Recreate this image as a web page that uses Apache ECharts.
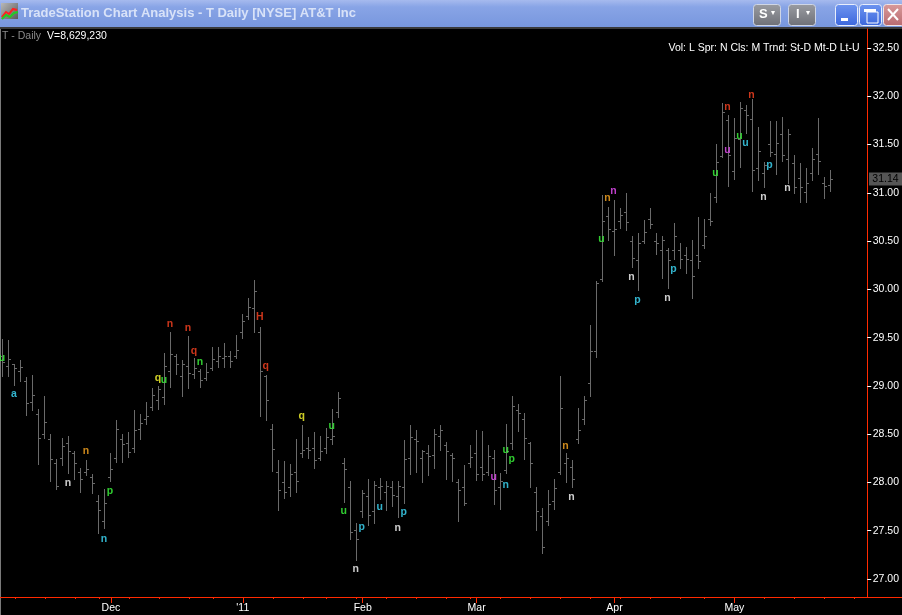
<!DOCTYPE html>
<html>
<head>
<meta charset="utf-8">
<script src="https://cdn.jsdelivr.net/npm/echarts@6/dist/echarts.min.js"></script>
<style>
html,body{margin:0;padding:0;background:#000;overflow:hidden;}
#chart{width:902px;height:615px;}
</style>
</head>
<body>
<div id="chart"></div>
<script>
// ---------- DATA ----------
const dates = [
 '2010-11-04','2010-11-05','2010-11-08','2010-11-09','2010-11-10','2010-11-11','2010-11-12','2010-11-15','2010-11-16','2010-11-17',
 '2010-11-18','2010-11-19','2010-11-22','2010-11-23','2010-11-24','2010-11-26','2010-11-29','2010-11-30','2010-12-01','2010-12-02',
 '2010-12-03','2010-12-06','2010-12-07','2010-12-08','2010-12-09','2010-12-10','2010-12-13','2010-12-14','2010-12-15','2010-12-16',
 '2010-12-17','2010-12-20','2010-12-21','2010-12-22','2010-12-23','2010-12-27','2010-12-28','2010-12-29','2010-12-30','2010-12-31',
 '2011-01-03','2011-01-04','2011-01-05','2011-01-06','2011-01-07','2011-01-10','2011-01-11','2011-01-12','2011-01-13','2011-01-14',
 '2011-01-18','2011-01-19','2011-01-20','2011-01-21','2011-01-24','2011-01-25','2011-01-26','2011-01-27','2011-01-28','2011-01-31',
 '2011-02-01','2011-02-02','2011-02-03','2011-02-04','2011-02-07','2011-02-08','2011-02-09','2011-02-10','2011-02-11','2011-02-14',
 '2011-02-15','2011-02-16','2011-02-17','2011-02-18','2011-02-22','2011-02-23','2011-02-24','2011-02-25','2011-02-28','2011-03-01',
 '2011-03-02','2011-03-03','2011-03-04','2011-03-07','2011-03-08','2011-03-09','2011-03-10','2011-03-11','2011-03-14','2011-03-15',
 '2011-03-16','2011-03-17','2011-03-18','2011-03-21','2011-03-22','2011-03-23','2011-03-24','2011-03-25','2011-03-28','2011-03-29',
 '2011-03-30','2011-03-31','2011-04-01','2011-04-04','2011-04-05','2011-04-06','2011-04-07','2011-04-08','2011-04-11','2011-04-12',
 '2011-04-13','2011-04-14','2011-04-15','2011-04-18','2011-04-19','2011-04-20','2011-04-21','2011-04-25','2011-04-26','2011-04-27',
 '2011-04-28','2011-04-29','2011-05-02','2011-05-03','2011-05-04','2011-05-05','2011-05-06','2011-05-09','2011-05-10','2011-05-11',
 '2011-05-12','2011-05-13','2011-05-16','2011-05-17','2011-05-18','2011-05-19','2011-05-20','2011-05-23','2011-05-24',
 // empty future space on the right of the chart
 '2011-05-25','2011-05-26','2011-05-27','2011-05-30','2011-05-31','2011-06-01'
];

const opens = [
 29.30,29.20,29.22,29.15,29.05,28.83,28.70,28.50,28.45,28.20,
 28.25,28.40,28.30,28.10,28.10,28.05,27.80,27.60,28.05,28.25,
 28.45,28.40,28.35,28.55,28.65,28.78,28.85,28.88,29.15,29.30,
 29.10,29.20,29.12,29.15,29.08,29.18,29.25,29.28,29.30,29.30,
 29.55,29.72,29.80,29.55,29.10,28.55,28.10,28.00,27.95,28.10,
 28.30,28.35,28.35,28.25,28.35,28.45,28.72,28.20,27.95,27.50,
 27.70,27.85,27.70,27.95,27.90,27.95,27.85,27.95,28.25,28.45,
 28.25,28.30,28.28,28.48,28.38,28.28,28.00,27.95,28.20,28.30,
 28.15,28.10,28.25,27.95,28.12,28.40,28.75,28.65,28.40,27.90,
 27.65,27.60,27.80,28.10,28.20,28.15,28.45,28.65,29.02,29.36,
 30.10,30.75,30.60,30.70,30.80,30.50,30.30,30.50,30.72,30.50,
 30.40,30.40,30.40,30.40,30.35,30.30,30.35,30.45,30.72,30.95,
 31.38,31.75,31.22,31.55,31.85,31.76,31.25,31.20,31.50,31.40,
 31.60,31.35,31.30,31.15,31.00,31.20,31.40,31.10,31.08
];
const highs = [
 29.49,29.48,29.23,29.27,29.09,29.11,28.76,28.90,28.50,28.24,
 28.46,28.48,28.33,28.15,28.23,28.09,27.87,27.93,28.31,28.65,
 28.50,28.52,28.75,28.71,28.83,28.98,29.00,29.34,29.56,29.33,
 29.27,29.52,29.29,29.17,29.24,29.40,29.40,29.44,29.36,29.53,
 29.74,29.91,30.10,29.61,29.11,28.61,28.23,28.22,28.19,28.45,
 28.60,28.47,28.52,28.48,28.56,28.76,28.94,28.25,28.02,27.58,
 27.92,28.04,28.02,28.05,28.02,28.01,28.02,28.44,28.60,28.54,
 28.34,28.39,28.55,28.59,28.42,28.30,28.04,28.18,28.39,28.54,
 28.53,28.39,28.34,28.10,28.61,28.90,28.81,28.72,28.42,27.95,
 27.74,27.92,28.04,29.10,28.31,28.23,28.77,28.90,29.63,30.09,
 30.98,30.85,30.93,30.84,31.00,30.55,30.58,30.72,30.84,30.58,
 30.55,30.43,30.69,30.48,30.44,30.51,30.75,30.73,31.00,31.51,
 31.93,31.81,31.78,31.94,31.91,31.97,31.68,31.32,31.74,31.74,
 31.79,31.66,31.39,31.31,31.26,31.46,31.77,31.16,31.24
];
const lows = [
 29.10,29.10,29.01,29.05,28.70,28.75,28.19,28.46,28.02,27.93,
 28.18,28.10,28.04,27.90,28.08,27.89,27.48,27.53,28.02,28.21,
 28.21,28.26,28.32,28.45,28.61,28.75,28.76,28.81,28.99,29.12,
 28.90,28.98,29.08,28.99,29.06,29.16,29.20,29.20,29.20,29.29,
 29.50,29.69,29.56,28.69,28.65,28.12,27.71,27.84,27.86,27.90,
 28.26,28.25,28.15,28.23,28.31,28.40,28.68,27.80,27.41,27.20,
 27.64,27.56,27.58,27.83,27.71,27.76,27.64,27.79,28.09,28.11,
 28.00,28.08,28.15,28.34,28.04,28.01,27.60,27.77,28.16,28.03,
 28.03,28.08,27.78,27.72,28.10,28.35,28.53,28.24,27.95,27.51,
 27.27,27.56,27.73,28.09,28.00,27.95,28.41,28.61,28.90,29.30,
 30.09,30.51,30.36,30.64,30.62,30.23,29.99,30.48,30.64,30.37,
 30.12,30.01,30.31,30.22,30.17,29.91,30.22,30.43,30.67,30.91,
 31.37,31.07,31.14,31.27,31.62,31.02,31.13,31.06,31.38,31.20,
 31.33,31.10,31.00,30.90,30.91,31.13,31.19,30.95,31.02
];
const closes = [
 29.24,29.27,29.18,29.19,28.82,28.90,28.46,28.62,28.24,27.96,
 28.37,28.32,28.20,28.03,28.13,27.99,27.71,27.78,28.13,28.55,
 28.39,28.31,28.54,28.61,28.68,28.90,28.96,29.20,29.33,29.22,
 29.22,29.13,29.18,29.06,29.14,29.27,29.30,29.30,29.25,29.37,
 29.67,29.81,29.98,29.15,28.85,28.34,27.92,27.90,28.08,28.01,
 28.33,28.33,28.23,28.32,28.47,28.48,28.87,28.13,27.48,27.41,
 27.89,27.66,27.97,27.96,27.96,27.87,27.96,28.24,28.47,28.42,
 28.32,28.27,28.50,28.54,28.32,28.25,27.92,27.78,28.26,28.08,
 28.08,28.27,27.92,28.01,28.32,28.79,28.71,28.46,28.20,27.70,
 27.33,27.77,27.94,28.77,28.25,28.03,28.54,28.85,29.36,30.06,
 30.70,30.62,30.62,30.77,30.69,30.32,30.48,30.59,30.67,30.47,
 30.51,30.30,30.55,30.31,30.31,30.13,30.29,30.55,30.70,31.31,
 31.83,31.39,31.56,31.87,31.80,31.23,31.43,31.28,31.42,31.51,
 31.39,31.60,31.05,31.05,31.10,31.35,31.32,31.07,31.14
];

// x axis tick labels (first trading day of each month) and weekly minor ticks
const monthTickIdx = [18, 40, 60, 79, 102, 122];
const monthTickLabels = ['Dec', "'11", 'Feb', 'Mar', 'Apr', 'May'];
const weekTickIdx = [2,7,12,16,21,26,31,35,45,50,54,59,64,69,74,78,83,88,93,98,103,108,113,117,127,132,137,142];

// price axis labels
const priceMin = 27.0;
const priceMax = 32.5;
const priceStep = 0.5;

// letter markers drawn on the chart (bar index, price level, letter, colour key)
const markerIdx   = [0, 2, 11, 14, 17, 18, 26, 27, 28, 31, 32, 33, 43, 44, 50, 55, 57, 59, 60, 63, 66, 67, 82, 84, 84, 85, 94, 95, 100, 101, 102, 105, 106, 111, 112, 119, 121, 121, 123, 124, 125, 127, 128, 131];
const markerPrice = [29.29, 28.91, 27.99, 28.32, 27.41, 27.91, 29.08, 29.06, 29.64, 29.60, 29.36, 29.25, 29.71, 29.20, 28.69, 28.58, 27.70, 27.10, 27.54, 27.74, 27.53, 27.69, 28.06, 27.97, 28.34, 28.24, 28.38, 27.85, 30.52, 30.95, 31.02, 30.13, 29.89, 29.91, 30.21, 31.20, 31.44, 31.89, 31.59, 31.52, 32.01, 30.96, 31.29, 31.05];
const markerText  = ['u','a','n','n','n','p','q','u','n','n','q','n','H','q','q','u','u','n','p','u','n','p','u','n','u','p','n','n','u','n','n','n','p','n','p','u','u','n','u','u','n','n','p','n'];
const markerTone  = ['green','cyan','white','orange','cyan','green','yellow','green','red','red','red','green','red','red','yellow','green','green','white','cyan','cyan','white','cyan','magenta','cyan','green','green','orange','white','green','orange','magenta','white','cyan','white','cyan','green','magenta','red','green','cyan','red','white','cyan','white'];

const headerSymbol = 'T - Daily';
const headerVolume = 'V=8,629,230';
const headerStatus = 'Vol: L Spr: N Cls: M Trnd: St-D Mt-D Lt-U';
const windowTitle = 'TradeStation Chart Analysis - T Daily [NYSE] AT&T Inc';

// ---------- STYLE / LAYOUT ----------
const palette = {white:'#ffffff', cyan:'#3ee0ff', green:'#3cff3c', yellow:'#ffff30', red:'#ff4422', orange:'#ffaa22', magenta:'#f050ff'};
const FONT = '"Liberation Sans", Arial, sans-serif';
const AXIS_RED = '#ff2a00';
const BAR_GRAY = '#6a6a6a';
const PLOT_TOP = 29, AXIS_Y = 597, LAB_TOP = 48, LAB_BOTTOM = 579, RIGHT_X = 867.3, W = 902, H = 615;
const BAR_W = 6;
const pxPerUnit = (LAB_BOTTOM - LAB_TOP) / (priceMax - priceMin);
const plotMax = priceMax + (LAB_TOP - PLOT_TOP) / pxPerUnit;
const plotMin = priceMin - (AXIS_Y - LAB_BOTTOM) / pxPerUnit;

const weekSet = new Set(weekTickIdx);
const monthMap = new Map(monthTickIdx.map((d, k) => [d, monthTickLabels[k]]));

const ohlc = closes.map((c, i) => [i, opens[i], c, lows[i], highs[i]]);
const lastIdx = closes.length - 1;
const markers = markerIdx.map((d, k) => ({
  value: [d, markerPrice[k]],
  label: {formatter: markerText[k], color: palette[markerTone[k]]}
}));

const chart = echarts.init(document.getElementById('chart'));

function crisp(v) { return Math.round(v - 0.5) + 0.5; }

const option = {
  backgroundColor: '#000000',
  animation: false,
  title: [
    {text: headerSymbol, left: 2, top: 31, padding: 0, textStyle: {color: '#8a8a8a', fontSize: 10.5, fontWeight: 'normal', fontFamily: FONT}},
    {text: headerVolume, left: 47, top: 31, padding: 0, textStyle: {color: '#ffffff', fontSize: 10.5, fontWeight: 'normal', fontFamily: FONT}},
    {text: headerStatus, right: W - 859.5, top: 43, padding: 0, textStyle: {color: '#ffffff', fontSize: 10.5, fontWeight: 'normal', fontFamily: FONT}}
  ],
  grid: [
    // plot area for the bars
    {left: -0.7, top: PLOT_TOP, width: dates.length * BAR_W, height: AXIS_Y - PLOT_TOP, containLabel: false},
    // price scale (27.00 .. 32.50)
    {left: 0, top: LAB_TOP, width: RIGHT_X, height: LAB_BOTTOM - LAB_TOP, containLabel: false},
    // full-width frame for the bottom axis line
    {left: 0, right: 0, top: PLOT_TOP, height: AXIS_Y - PLOT_TOP, containLabel: false}
  ],
  xAxis: [
    {
      type: 'category', gridIndex: 0, data: dates, boundaryGap: true, position: 'bottom',
      axisLine: {show: false, onZero: false},
      axisTick: {show: true, alignWithLabel: true, length: 2, lineStyle: {color: AXIS_RED},
                 interval: (i) => weekSet.has(i) && !monthMap.has(i)},
      axisLabel: {show: false},
      splitLine: {show: false}
    },
    {
      type: 'category', gridIndex: 0, data: dates, boundaryGap: true, position: 'bottom',
      axisLine: {show: false, onZero: false},
      axisTick: {show: true, alignWithLabel: true, length: 6, lineStyle: {color: AXIS_RED},
                 interval: (i) => monthMap.has(i)},
      axisLabel: {show: true, interval: (i) => monthMap.has(i), margin: 6,
                  formatter: (v, i) => monthMap.get(i) || '',
                  color: '#ffffff', fontSize: 10.5, fontFamily: FONT},
      splitLine: {show: false}
    },
    {
      type: 'value', gridIndex: 1, min: 0, max: 1, show: false, axisLine: {onZero: false}
    },
    {
      type: 'value', gridIndex: 2, min: 0, max: 1, position: 'bottom',
      axisLine: {show: true, onZero: false, lineStyle: {color: AXIS_RED, width: 1}},
      axisTick: {show: false}, axisLabel: {show: false}, splitLine: {show: false}
    }
  ],
  yAxis: [
    {
      type: 'value', gridIndex: 0, min: plotMin, max: plotMax, show: false, axisLine: {onZero: false}
    },
    {
      type: 'value', gridIndex: 1, min: priceMin, max: priceMax, interval: priceStep, position: 'right',
      axisLine: {show: false, onZero: false},
      axisTick: {show: true, length: 4, lineStyle: {color: '#ffffff'}},
      axisLabel: {show: true, margin: 5.5, color: '#ffffff', fontSize: 10.5, fontFamily: FONT,
                  formatter: (v) => v.toFixed(2)},
      splitLine: {show: false}
    },
    {
      type: 'value', gridIndex: 2, min: 0, max: 1, position: 'left',
      offset: -RIGHT_X,
      axisLine: {show: true, onZero: false, lineStyle: {color: AXIS_RED, width: 1}},
      axisTick: {show: false}, axisLabel: {show: false}, splitLine: {show: false}
    }
  ],
  series: [
    {
      type: 'custom', name: 'T', xAxisIndex: 0, yAxisIndex: 0,
      data: ohlc, encode: {x: 0, y: [1, 2, 3, 4]},
      renderItem: function (params, api) {
        const i = api.value(0);
        const o = api.coord([i, api.value(1)]);
        const c = api.coord([i, api.value(2)]);
        const lo = api.coord([i, api.value(3)]);
        const hi = api.coord([i, api.value(4)]);
        const x = crisp(hi[0]);
        const st = {stroke: BAR_GRAY, lineWidth: 1};
        return {
          type: 'group',
          children: [
            {type: 'line', shape: {x1: x, y1: Math.round(hi[1]), x2: x, y2: Math.round(lo[1]) + 1}, style: st},
            {type: 'line', shape: {x1: x - 2.5, y1: crisp(o[1]), x2: x, y2: crisp(o[1])}, style: st},
            {type: 'line', shape: {x1: x, y1: crisp(c[1]), x2: x + 2.5, y2: crisp(c[1])}, style: st}
          ]
        };
      },
      z: 2
    },
    {
      // last-price box on the price scale
      type: 'custom', name: 'last', xAxisIndex: 0, yAxisIndex: 0, clip: false,
      data: [[lastIdx, closes[lastIdx]]], encode: {x: 0, y: 1},
      renderItem: function (params, api) {
        const p = api.coord([api.value(0), api.value(1)]);
        const y = Math.round(p[1]);
        return {
          type: 'group',
          children: [
            {type: 'rect', shape: {x: RIGHT_X + 1.7, y: y - 6.5, width: W - RIGHT_X, height: 13}, style: {fill: '#555555'}},
            {type: 'text', style: {x: RIGHT_X + 5, y: y, text: api.value(1).toFixed(2), fill: '#000000',
              font: '10.5px ' + FONT, verticalAlign: 'middle', align: 'left'}}
          ]
        };
      },
      z: 5
    },
    {
      type: 'scatter', name: 'markers', xAxisIndex: 0, yAxisIndex: 0,
      symbolSize: 1, itemStyle: {color: 'rgba(0,0,0,0)'},
      label: {show: true, position: 'inside', offset: [-1, 0], fontSize: 10.5, fontFamily: FONT,
              textBorderWidth: 0, fontWeight: 'bold'},
      data: markers, z: 3
    }
  ],
  graphic: [
    // window title bar
    {type: 'rect', left: 0, top: 0, shape: {width: W, height: 28}, silent: true,
     style: {fill: {type: 'linear', x: 0, y: 0, x2: 0, y2: 1,
       colorStops: [{offset: 0, color: '#a6baee'}, {offset: 0.25, color: '#88a4e6'}, {offset: 1, color: '#7796dd'}]}}},
    {type: 'rect', left: 0, top: 27, shape: {width: W, height: 2}, silent: true, style: {fill: '#3a3a3a'}},
    {type: 'rect', left: 0, top: 29, shape: {width: 1, height: H - 29}, silent: true, style: {fill: '#7a7a7a'}},
    // app icon
    {type: 'rect', left: 1, top: 3, shape: {width: 17, height: 16}, silent: true,
     style: {fill: {type: 'linear', x: 0, y: 0, x2: 1, y2: 1, colorStops: [{offset: 0, color: '#b8b8b8'}, {offset: 1, color: '#5a5a5a'}]}}},
    {type: 'polyline', silent: true, shape: {points: [[2, 17], [6, 12], [9, 14], [13, 9], [17, 10]]}, style: {stroke: '#ff2020', lineWidth: 2, fill: null}},
    {type: 'polyline', silent: true, shape: {points: [[2, 19], [6, 15], [10, 17], [14, 13], [18, 12]]}, style: {stroke: '#22cc22', lineWidth: 2, fill: null}},
    {type: 'text', left: 21, top: 7, silent: true,
     style: {text: windowTitle, fill: '#d8e2f8', font: 'bold 13px ' + FONT}},
    // S and I buttons
    {type: 'rect', left: 753, top: 4, shape: {width: 27, height: 21, r: 3}, silent: true,
     style: {fill: {type: 'linear', x: 0, y: 0, x2: 0, y2: 1, colorStops: [{offset: 0, color: '#9a9ca2'}, {offset: 1, color: '#6e7077'}]}, stroke: '#cfd6e6', lineWidth: 1}},
    {type: 'text', left: 759, top: 8, silent: true, style: {text: 'S', fill: '#ffffff', font: 'bold 13px ' + FONT}},
    {type: 'text', left: 771, top: 9, silent: true, style: {text: '▾', fill: '#ffffff', font: '8px ' + FONT}},
    {type: 'rect', left: 788, top: 4, shape: {width: 27, height: 21, r: 3}, silent: true,
     style: {fill: {type: 'linear', x: 0, y: 0, x2: 0, y2: 1, colorStops: [{offset: 0, color: '#9a9ca2'}, {offset: 1, color: '#6e7077'}]}, stroke: '#cfd6e6', lineWidth: 1}},
    {type: 'text', left: 796, top: 8, silent: true, style: {text: 'I', fill: '#ffffff', font: 'bold 13px ' + FONT}},
    {type: 'text', left: 806, top: 9, silent: true, style: {text: '▾', fill: '#ffffff', font: '8px ' + FONT}},
    // minimize / maximize / close
    {type: 'rect', left: 835, top: 4, shape: {width: 22, height: 21, r: 3}, silent: true,
     style: {fill: {type: 'linear', x: 0, y: 0, x2: 0, y2: 1, colorStops: [{offset: 0, color: '#6e95f0'}, {offset: 1, color: '#3b66dc'}]}, stroke: '#e8eefc', lineWidth: 1}},
    {type: 'rect', left: 841, top: 18, shape: {width: 7, height: 3}, silent: true, style: {fill: '#ffffff'}},
    {type: 'rect', left: 859, top: 4, shape: {width: 22, height: 21, r: 3}, silent: true,
     style: {fill: {type: 'linear', x: 0, y: 0, x2: 0, y2: 1, colorStops: [{offset: 0, color: '#6e95f0'}, {offset: 1, color: '#3b66dc'}]}, stroke: '#e8eefc', lineWidth: 1}},
    {type: 'rect', left: 864.5, top: 9.5, shape: {width: 11, height: 11}, silent: true, style: {fill: null, stroke: '#ffffff', lineWidth: 1}},
    {type: 'rect', left: 864, top: 9, shape: {width: 12, height: 3}, silent: true, style: {fill: '#ffffff'}},
    {type: 'rect', left: 883, top: 4, shape: {width: 21, height: 21, r: 3}, silent: true,
     style: {fill: {type: 'linear', x: 0, y: 0, x2: 0, y2: 1, colorStops: [{offset: 0, color: '#d99a9a'}, {offset: 1, color: '#b86a70'}]}, stroke: '#f0e4e6', lineWidth: 1}},
    {type: 'line', silent: true, shape: {x1: 888, y1: 9, x2: 898, y2: 20}, style: {stroke: '#ffffff', lineWidth: 2}},
    {type: 'line', silent: true, shape: {x1: 898, y1: 9, x2: 888, y2: 20}, style: {stroke: '#ffffff', lineWidth: 2}}
  ]
};

chart.setOption(option);
</script>
</body>
</html>
